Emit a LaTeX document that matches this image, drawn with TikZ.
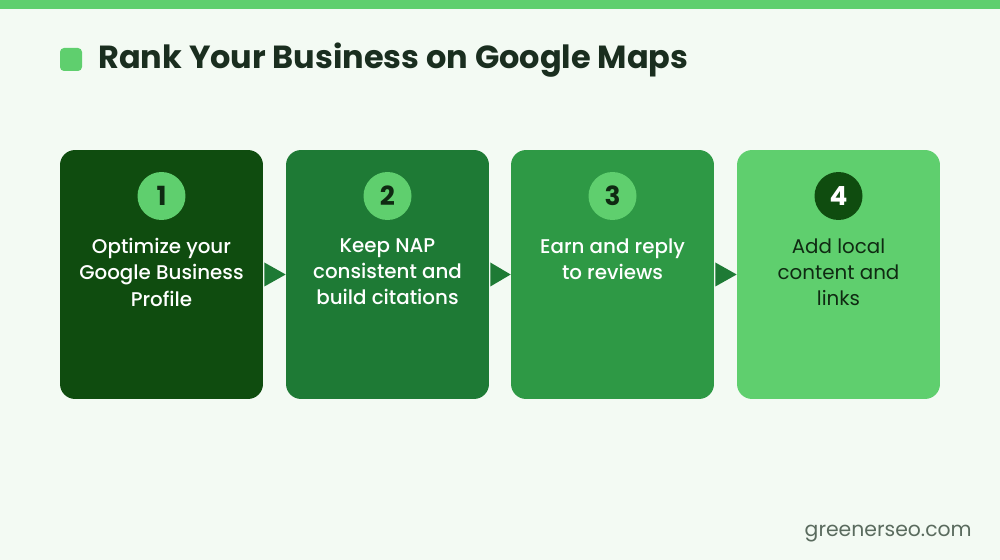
\documentclass[tikz,border=0pt]{standalone}
\usepackage{fontspec}
\setmainfont{Poppins}
\newfontfamily\medfont{Poppins Medium}
\usetikzlibrary{calc}
\definecolor{bgc}{HTML}{F3FAF3}
\definecolor{barc}{HTML}{5FCF6E}
\definecolor{titlec}{HTML}{1A2E1F}
\definecolor{boxa}{HTML}{0F4C0F}
\definecolor{boxb}{HTML}{1E7A35}
\definecolor{boxc}{HTML}{2E9945}
\definecolor{boxd}{HTML}{5FCF6E}
\definecolor{numc}{HTML}{0F2A12}
\definecolor{footc}{HTML}{5A6B5E}
\tikzset{
  stepbox/.style={rectangle, rounded corners=0.3cm, minimum width=4.06cm, minimum height=4.98cm, inner sep=0pt},
  numdot/.style={circle, minimum size=0.96cm, inner sep=0pt, font=\fontsize{15}{18}\selectfont\bfseries},
  steptext/.style={align=center, anchor=north, inner sep=0pt, font=\medfont\fontsize{11.3}{15}\selectfont},
  tri/.style={fill=boxb}
}
\begin{document}
\begin{tikzpicture}[x=0.02cm, y=-0.02cm]
\useasboundingbox (0,0) rectangle (1000,560);
\fill[bgc] (0,0) rectangle (1000,560);
\fill[barc] (0,0) rectangle (1000,9);
% title
\fill[barc, rounded corners=0.08cm] (60,48) rectangle (82,71);
\node[anchor=west, inner sep=0pt, text=titlec, font=\fontsize{18.2}{22}\selectfont\bfseries] (title) at (98,60) {Rank Your Business on Google Maps};
% steps
\node[stepbox, fill=boxa] (b1) at (161.5,274.5) {};
\node[stepbox, fill=boxb] (b2) at (387.5,274.5) {};
\node[stepbox, fill=boxc] (b3) at (612.5,274.5) {};
\node[stepbox, fill=boxd] (b4) at (838.5,274.5) {};
\node[numdot, fill=barc, text=numc] (n1) at (161.5,196) {1};
\node[numdot, fill=barc, text=numc] (n2) at (387.5,196) {2};
\node[numdot, fill=barc, text=numc] (n3) at (612.5,196) {3};
\node[numdot, fill=boxa, text=white] (n4) at (838.5,196) {4};
\node[steptext, text=white] (t1) at (161.5,238) {Optimize your\\Google Business\\Profile};
\node[steptext, text=white] (t2) at (387.5,238) {Keep NAP\\consistent and\\build citations};
\node[steptext, text=white] (t3) at (612.5,238) {Earn and reply\\to reviews};
\node[steptext, text=numc, font=\fontsize{11.3}{15}\selectfont] (t4) at (838.5,238) {Add local\\content and\\links};
% arrows
\fill[tri] ($(b1.east)+(1,-12)$) -- (b2.west) -- ($(b1.east)+(1,12)$) -- cycle;
\fill[tri] ($(b2.east)+(1,-12)$) -- (b3.west) -- ($(b2.east)+(1,12)$) -- cycle;
\fill[tri] ($(b3.east)+(1,-12)$) -- (b4.west) -- ($(b3.east)+(1,12)$) -- cycle;
\node[anchor=east, inner sep=0pt, text=footc, font=\fontsize{11.6}{13}\selectfont] (site) at (972,534) {greenerseo.com};
\end{tikzpicture}
\end{document}
